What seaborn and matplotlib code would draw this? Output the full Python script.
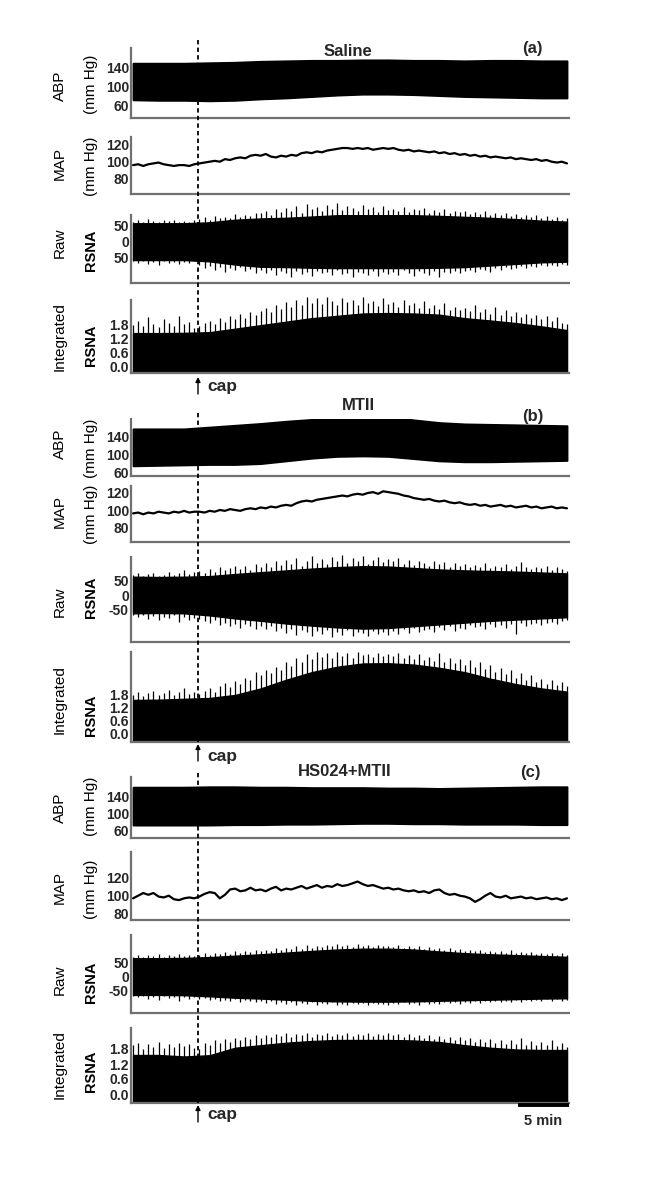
import numpy as np
import matplotlib
matplotlib.use("Agg")
import matplotlib.pyplot as plt
import seaborn as sns
from matplotlib.lines import Line2D
from matplotlib.patches import FancyArrowPatch

# ---------------------------------------------------------------- data
T_END = 42.5          # recording length shown (min)
CAP_T = 6.4           # time of cap (min)
SCALE_BAR_MIN = 5

groups = ["Saline", "MTII", "HS024+MTII"]
tags = ["(a)", "(b)", "(c)"]
row_outer = ["ABP", "MAP", "Raw", "Integrated"]
row_inner = ["(mm Hg)", "(mm Hg)", "RSNA", "RSNA"]

abp_ticks = [60, 100, 140]
map_ticks = [80, 100, 120]
raw_ticks = [-50, 0, 50]
raw_ticklabels = [["50", "0", "50"], ["-50", "0", "50"], ["-50", "0", "50"]]
int_ticks = [0.0, 0.6, 1.2, 1.8]
int_ticklabels = ["0.0", "0.6", "1.2", "1.8"]

# ABP envelope (systolic / diastolic), every 2.5 min
abp_hi_a = [150, 150, 150, 151, 152, 154, 155, 156, 156, 157, 157, 156, 156, 155, 156, 156, 155, 155]
abp_lo_a = [73, 72, 72, 71, 72, 75, 77, 80, 83, 85, 85, 84, 82, 80, 79, 78, 77, 77]
abp_hi_b = [158, 158, 158, 162, 166, 170, 175, 179, 183, 186, 185, 178, 172, 169, 168, 167, 166, 165]
abp_lo_b = [76, 77, 78, 79, 79, 81, 87, 93, 97, 98, 97, 92, 87, 85, 85, 86, 87, 88]
abp_hi_c = [163, 163, 163, 164, 164, 163, 163, 162, 162, 162, 161, 161, 160, 161, 162, 163, 164, 164]
abp_lo_c = [74, 74, 74, 74, 75, 75, 76, 76, 77, 78, 78, 77, 77, 76, 76, 76, 75, 75]

# MAP, every 0.5 min
map_a = [96, 97, 95, 97, 98, 99, 97, 96, 95, 96, 96, 95, 97,
         98, 99, 100, 101, 100, 103, 102, 104, 105, 104, 107, 108,
         107, 109, 106, 105, 107, 106, 108, 107, 110, 111, 110, 112, 111, 113, 114,
         115, 116, 116, 115, 116, 115, 116, 114, 115, 116, 115, 116, 114, 113,
         114, 112, 113, 112, 111, 112, 110, 111, 109, 110, 108, 109, 107, 108,
         106, 107, 105, 106, 105, 104, 105, 103, 104, 103, 102, 103, 101, 102, 100, 99, 100, 98]
map_b = [96, 97, 95, 97, 96, 98, 97, 96, 98, 97, 99, 97, 98,
         98, 97, 99, 98, 100, 99, 101, 100, 99, 101, 102, 101,
         103, 102, 104, 103, 105, 106, 105, 108, 110, 111, 110, 112, 113, 114, 115,
         116, 117, 116, 118, 119, 118, 120, 121, 119, 122, 121, 120, 119, 117,
         116, 114, 113, 112, 113, 111, 110, 111, 109, 108, 109, 107, 106, 107,
         105, 106, 104, 105, 106, 104, 105, 103, 104, 105, 103, 104, 102, 103, 104, 102, 103, 102]
map_c = [97, 100, 103, 101, 103, 99, 98, 100, 96, 95, 97, 98, 97,
         99, 102, 104, 103, 97, 101, 107, 108, 105, 106, 109, 106,
         107, 105, 108, 110, 106, 108, 107, 109, 111, 108, 110, 112, 109, 111, 110,
         113, 111, 112, 114, 116, 113, 111, 112, 110, 108, 109, 107, 108, 106,
         105, 106, 104, 105, 103, 106, 107, 103, 101, 102, 100, 99, 97, 93,
         96, 100, 103, 99, 98, 100, 97, 98, 99, 97, 98, 96, 97, 98, 96, 97, 95, 97]

# Raw RSNA: dense envelope every 2.5 min, spike extremes every 0.5 min
raw_hi_a = [57, 57, 57, 60, 68, 72, 74, 78, 82, 83, 83, 82, 80, 77, 74, 70, 65, 62]
raw_lo_a = [-58, -58, -58, -62, -72, -79, -80, -82, -83, -83, -83, -83, -82, -80, -75, -70, -65, -63]
raw_up_a = [62, 66, 60, 70, 64, 61, 68, 63, 66, 60, 65, 62, 67,
            70, 75, 68, 80, 74, 78, 72, 85, 76, 82, 79, 90,
            88, 95, 84, 100, 92, 105, 96, 112, 90, 118, 100, 108, 95, 115, 102, 120, 98, 110,
            104, 96, 113, 100, 107, 93, 110, 99,
            102, 95, 108, 92, 100, 97, 104, 90, 98, 93, 101, 88, 95, 91,
            94, 87, 92, 85, 96, 84, 89, 82, 90, 80, 86, 78, 84, 75, 82, 73, 79, 70, 76, 68, 72]
raw_dn_a = [-62, -66, -60, -70, -64, -73, -61, -67, -63, -70, -65, -68, -62,
            -75, -82, -78, -90, -80, -95, -84, -88, -79, -92, -86, -98,
            -90, -100, -88, -105, -93, -98, -110, -92, -102, -96, -108, -91, -100, -95, -106, -89,
            -103, -97, -110, -94, -99, -104, -92, -107, -96, -101,
            -95, -105, -90, -100, -108, -93, -98, -104, -91, -110, -96, -100, -93, -98,
            -92, -88, -96, -85, -90, -94, -84, -88, -80, -86, -82, -78, -84, -76, -80, -74, -78, -72, -76, -70, -74]
raw_hi_b = [61, 60, 61, 63, 70, 76, 82, 88, 93, 96, 95, 90, 85, 82, 80, 78, 75, 72]
raw_lo_b = [-61, -60, -61, -68, -78, -86, -95, -102, -108, -112, -110, -104, -98, -92, -86, -82, -78, -74]
raw_up_b = [66, 72, 64, 70, 75, 63, 68, 78, 66, 73, 82, 70, 76,
            80, 72, 86, 78, 92, 84, 90, 98, 88, 96, 85, 102,
            95, 108, 92, 112, 100, 118, 105, 125, 98, 115, 130, 108, 120, 102, 128, 112, 133,
            106, 122, 115, 130, 104, 118, 126, 110, 120,
            112, 125, 104, 118, 100, 115, 108, 96, 112, 102, 110, 95, 106, 98,
            104, 92, 100, 95, 108, 90, 98, 94, 102, 88, 96, 110, 92, 86, 95, 90, 98, 84, 92, 88, 80]
raw_dn_b = [-68, -75, -66, -80, -70, -85, -72, -78, -68, -90, -74, -82, -76,
            -80, -88, -95, -84, -100, -92, -105, -96, -110, -98, -104, -112,
            -105, -115, -102, -120, -110, -128, -115, -135, -118, -125, -138, -120, -130, -116,
            -140, -124, -132, -118, -136, -122, -128, -138, -120, -130, -125, -134,
            -120, -130, -115, -126, -110, -122, -118, -112, -125, -108, -116, -105, -120, -110,
            -112, -100, -108, -104, -115, -98, -106, -100, -110, -96, -130, -94, -102, -98, -92,
            -100, -95, -90, -98, -88, -85]
raw_hi_c = [66, 66, 67, 70, 75, 80, 86, 92, 97, 100, 100, 97, 90, 84, 80, 77, 74, 71]
raw_lo_c = [-65, -65, -66, -70, -75, -78, -82, -86, -88, -89, -89, -88, -86, -84, -82, -80, -78, -77]
raw_up_c = [72, 76, 70, 78, 74, 80, 71, 77, 73, 82, 75, 79, 74,
            78, 84, 76, 86, 80, 88, 82, 90, 85, 92, 87, 94,
            90, 97, 93, 101, 95, 104, 98, 108, 100, 112, 104, 110, 106, 114, 108, 116, 110,
            113, 107, 115, 109, 112, 106, 114, 108, 111,
            107, 112, 104, 110, 102, 108, 100, 106, 98, 103, 96, 101, 94, 99,
            92, 97, 90, 95, 88, 93, 87, 92, 85, 95, 84, 89, 83, 88, 81, 86, 80, 85, 78, 83, 76]
raw_dn_c = [-70, -74, -68, -78, -72, -82, -70, -76, -72, -85, -74, -78, -72,
            -80, -76, -84, -78, -86, -82, -88, -80, -90, -84, -88, -92,
            -86, -94, -88, -96, -90, -98, -92, -100, -94, -97, -91, -101, -95, -98, -92, -100,
            -96, -102, -93, -99, -95, -101, -94, -98, -96, -100,
            -94, -99, -92, -97, -95, -100, -91, -96, -93, -98, -90, -95, -92, -97,
            -90, -95, -88, -94, -87, -92, -86, -91, -85, -90, -84, -89, -83, -88, -82, -87,
            -81, -86, -80, -85, -82]

# Integrated RSNA: dense level every 2.5 min, burst peaks every 0.5 min
int_base_a = [1.41, 1.41, 1.42, 1.45, 1.60, 1.75, 1.90, 2.05, 2.15, 2.25, 2.27, 2.25, 2.20, 2.05, 1.95, 1.84, 1.70, 1.54]
int_pk_a = [1.75, 1.95, 1.70, 2.10, 1.80, 1.68, 2.00, 1.85, 1.72, 2.15, 1.78, 1.90, 1.65,
            1.70, 1.85, 1.95, 1.80, 2.05, 1.90, 2.15, 2.00, 2.25, 2.05, 2.30, 2.20,
            2.35, 2.50, 2.30, 2.60, 2.45, 2.75, 2.55, 2.85, 2.60, 2.95, 2.70, 2.90, 2.65, 2.98,
            2.80, 2.60, 2.92, 2.75, 2.85, 2.62, 2.95, 2.70, 2.80, 2.58, 2.90, 2.65,
            2.75, 2.55, 2.85, 2.60, 2.70, 2.50, 2.78, 2.48, 2.62, 2.45, 2.70, 2.40, 2.55, 2.38,
            2.50, 2.35, 2.60, 2.30, 2.45, 2.25, 2.55, 2.20, 2.40, 2.15, 2.30, 2.10, 2.25, 2.05,
            2.20, 2.00, 2.15, 1.95, 2.10, 1.85, 1.80]
int_base_b = [1.57, 1.58, 1.62, 1.66, 1.80, 2.10, 2.50, 2.85, 3.10, 3.25, 3.26, 3.20, 3.05, 2.85, 2.55, 2.30, 2.10, 1.95]
int_pk_b = [1.80, 1.95, 1.75, 1.90, 2.00, 1.78, 1.88, 2.05, 1.82, 1.95, 2.10, 1.85, 1.92,
            1.85, 2.00, 2.10, 1.95, 2.20, 2.35, 2.15, 2.45, 2.30, 2.60, 2.50, 2.85,
            2.70, 2.95, 2.80, 3.10, 2.95, 3.30, 3.15, 3.50, 3.30, 3.70, 3.45, 3.80, 3.55, 3.75,
            3.50, 3.78, 3.60, 3.72, 3.50, 3.80, 3.62, 3.70, 3.55, 3.75, 3.58, 3.68,
            3.60, 3.72, 3.50, 3.65, 3.45, 3.70, 3.40, 3.55, 3.35, 3.75, 3.30, 3.50, 3.25, 3.45,
            3.20, 3.40, 3.10, 3.30, 3.00, 3.20, 2.85, 3.05, 2.75, 2.95, 2.60, 2.80, 2.50, 2.70,
            2.40, 2.55, 2.30, 2.50, 2.25, 2.40, 2.20]
int_base_c = [1.56, 1.56, 1.50, 1.55, 1.85, 1.95, 2.05, 2.12, 2.16, 2.16, 2.16, 2.14, 2.08, 1.95, 1.85, 1.78, 1.76, 1.76]
int_pk_c = [1.95, 2.05, 1.80, 2.00, 1.90, 2.08, 1.85, 2.02, 1.88, 2.05, 1.92, 2.00, 1.85,
            1.80, 2.05, 1.95, 2.15, 2.05, 2.20, 2.10, 2.25, 2.15, 2.30, 2.20, 2.35,
            2.25, 2.38, 2.30, 2.42, 2.32, 2.45, 2.28, 2.40, 2.35, 2.44, 2.30, 2.42, 2.36, 2.45,
            2.33, 2.40, 2.38, 2.44, 2.32, 2.42, 2.36, 2.45, 2.34, 2.40, 2.37, 2.43,
            2.35, 2.42, 2.30, 2.40, 2.28, 2.38, 2.25, 2.35, 2.22, 2.32, 2.20, 2.30, 2.18, 2.28,
            2.15, 2.25, 2.10, 2.22, 2.08, 2.20, 2.05, 2.18, 2.02, 2.15, 2.00, 2.25, 1.98, 2.12,
            1.96, 2.10, 1.95, 2.15, 1.92, 2.05, 1.90]

ABP = [(abp_lo_a, abp_hi_a), (abp_lo_b, abp_hi_b), (abp_lo_c, abp_hi_c)]
MAP = [map_a, map_b, map_c]
RAW = [(raw_lo_a, raw_hi_a, raw_dn_a, raw_up_a),
       (raw_lo_b, raw_hi_b, raw_dn_b, raw_up_b),
       (raw_lo_c, raw_hi_c, raw_dn_c, raw_up_c)]
INT = [(int_base_a, int_pk_a), (int_base_b, int_pk_b), (int_base_c, int_pk_c)]

# ---------------------------------------------------------------- layout (pixels)
FW, FH = 653, 1196
AX_LEFT, AX_RIGHT = 131, 569
T_LIM = (-0.2, 42.7)
ROWS = [[(48, 118), (137, 194), (215, 283), (300, 373)],
        [(419, 476), (486, 542), (557, 642), (652, 742)],
        [(777, 838), (852, 920), (935, 1013), (1028, 1103)]]
YLIMS = [[(34.7, 182.1), (62.2, 128.9), (-129.7, 82.8), (-0.30, 2.83)],
         [(53.3, 180.0), (62.4, 128.2), (-156.7, 126.7), (-0.37, 3.78)],
         [(43.5, 187.0), (72.5, 149.4), (-129.6, 148.9), (-0.36, 2.64)]]
OUTER_Y = [[86, 163, 243, 337], [444, 511, 602, 700], [808, 888, 980, 1065]]
INNER_Y = [[84, 166, 250, 345], [448, 514, 597, 715], [806, 889, 982, 1071]]
TITLE_XY = [(348, 51), (358, 406), (345, 772)]
TAG_XY = [(532, 48), (533, 416), (530, 772)]
DASH_Y = [(40, 373), (413, 742), (773, 1103)]
ARROW_Y = [(394, 377), (761, 744), (1122, 1105)]
CAP_TEXT_Y = [387, 756, 1115]
CAP_X = 198

sns.set_theme(style="white")
plt.rcParams["font.family"] = ["Liberation Sans", "DejaVu Sans"]
SPINE = "#707070"
INK = "black"

fig = plt.figure(figsize=(FW / 100, FH / 100), dpi=100)


def fx(x):
    return x / FW


def fy(y):
    return 1 - y / FH


def new_ax(top, bottom):
    ax = fig.add_axes([fx(AX_LEFT), fy(bottom), (AX_RIGHT - AX_LEFT) / FW, (bottom - top) / FH])
    ax.set_xlim(*T_LIM)
    ax.set_xticks([])
    for s in ("top", "right"):
        ax.spines[s].set_visible(False)
    for s in ("left", "bottom"):
        ax.spines[s].set_color(SPINE)
        ax.spines[s].set_linewidth(1.6)
    ax.tick_params(axis="y", length=0, pad=1.5)
    ax.patch.set_alpha(0)
    return ax


def bold_ticks(ax, ticks, labels):
    ax.set_yticks(ticks)
    ax.set_yticklabels(labels, fontweight="bold", fontsize=10)


for g in range(3):
    # ABP
    ax = new_ax(*ROWS[g][0])
    lo, hi = ABP[g]
    t_env = np.linspace(0, T_END, len(lo))
    ax.fill_between(t_env, lo, hi, color=INK, lw=1.4, edgecolor=INK)
    ax.set_ylim(*YLIMS[g][0])
    bold_ticks(ax, abp_ticks, [str(v) for v in abp_ticks])

    # MAP
    ax = new_ax(*ROWS[g][1])
    t_map = np.linspace(0, T_END, len(MAP[g]))
    sns.lineplot(x=t_map, y=MAP[g], ax=ax, color=INK, lw=1.6)
    ax.set_ylim(*YLIMS[g][1])
    ax.set_ylabel("")
    bold_ticks(ax, map_ticks, [str(v) for v in map_ticks])

    # Raw RSNA
    ax = new_ax(*ROWS[g][2])
    lo, hi, dn, up = RAW[g]
    t_env = np.linspace(0, T_END, len(lo))
    ax.fill_between(t_env, lo, hi, color=INK, lw=1.0, edgecolor=INK)
    t_sp = np.linspace(0, T_END, len(up))
    ax.vlines(t_sp, 0, up, color=INK, lw=0.9, clip_on=False)
    t_sp = np.linspace(0, T_END, len(dn))
    ax.vlines(t_sp, dn, 0, color=INK, lw=0.9, clip_on=False)
    ax.set_ylim(*YLIMS[g][2])
    bold_ticks(ax, raw_ticks, raw_ticklabels[g])

    # Integrated RSNA
    ax = new_ax(*ROWS[g][3])
    base, pk = INT[g]
    y0 = YLIMS[g][3][0]
    t_env = np.linspace(0, T_END, len(base))
    ax.fill_between(t_env, y0, base, color=INK, lw=1.0, edgecolor=INK)
    t_sp = np.linspace(0, T_END, len(pk))
    ax.vlines(t_sp, y0, pk, color=INK, lw=0.9, clip_on=False)
    ax.set_ylim(*YLIMS[g][3])
    bold_ticks(ax, int_ticks, int_ticklabels)

    # row labels
    for r in range(4):
        fig.text(fx(60), fy(OUTER_Y[g][r]), row_outer[r], rotation=90, ha="center", va="center",
                 fontsize=11, color="black")
        fig.text(fx(91), fy(INNER_Y[g][r]), row_inner[r], rotation=90, ha="center", va="center",
                 fontsize=11 if row_inner[r] != "RSNA" else 10.5,
                 fontweight="bold" if row_inner[r] == "RSNA" else "normal",
                 color="black")

    # titles
    fig.text(fx(TITLE_XY[g][0]), fy(TITLE_XY[g][1]), groups[g], ha="center", va="center",
             fontsize=12, fontweight="bold")
    fig.text(fx(TAG_XY[g][0]), fy(TAG_XY[g][1]), tags[g], ha="center", va="center",
             fontsize=12, fontweight="bold")

    # dashed cap line, arrow and label
    fig.add_artist(Line2D([fx(CAP_X)] * 2, [fy(DASH_Y[g][0]), fy(DASH_Y[g][1])],
                          transform=fig.transFigure, color="black", lw=1.3,
                          linestyle=(0, (2.4, 1.8))))
    fig.add_artist(FancyArrowPatch((fx(CAP_X), fy(ARROW_Y[g][0])), (fx(CAP_X), fy(ARROW_Y[g][1])),
                                   transform=fig.transFigure, arrowstyle="-|>",
                                   mutation_scale=7, lw=1.0, color="black",
                                   shrinkA=0, shrinkB=0))
    fig.text(fx(207), fy(CAP_TEXT_Y[g]), "cap", ha="left", va="center",
             fontsize=12.5, fontweight="bold")

# 5-min scale bar under the last panel
px_per_min = (567 - 133) / T_END
bar_x1 = 569
bar_x0 = bar_x1 - SCALE_BAR_MIN * px_per_min
fig.add_artist(Line2D([fx(bar_x0), fx(bar_x1)], [fy(1105)] * 2, transform=fig.transFigure,
                      color="black", lw=2.8, solid_capstyle="butt"))
fig.text(fx((bar_x0 + bar_x1) / 2), fy(1121), f"{SCALE_BAR_MIN} min", ha="center", va="center",
         fontsize=10.5, fontweight="bold")

fig.savefig("out.png", dpi=100)
